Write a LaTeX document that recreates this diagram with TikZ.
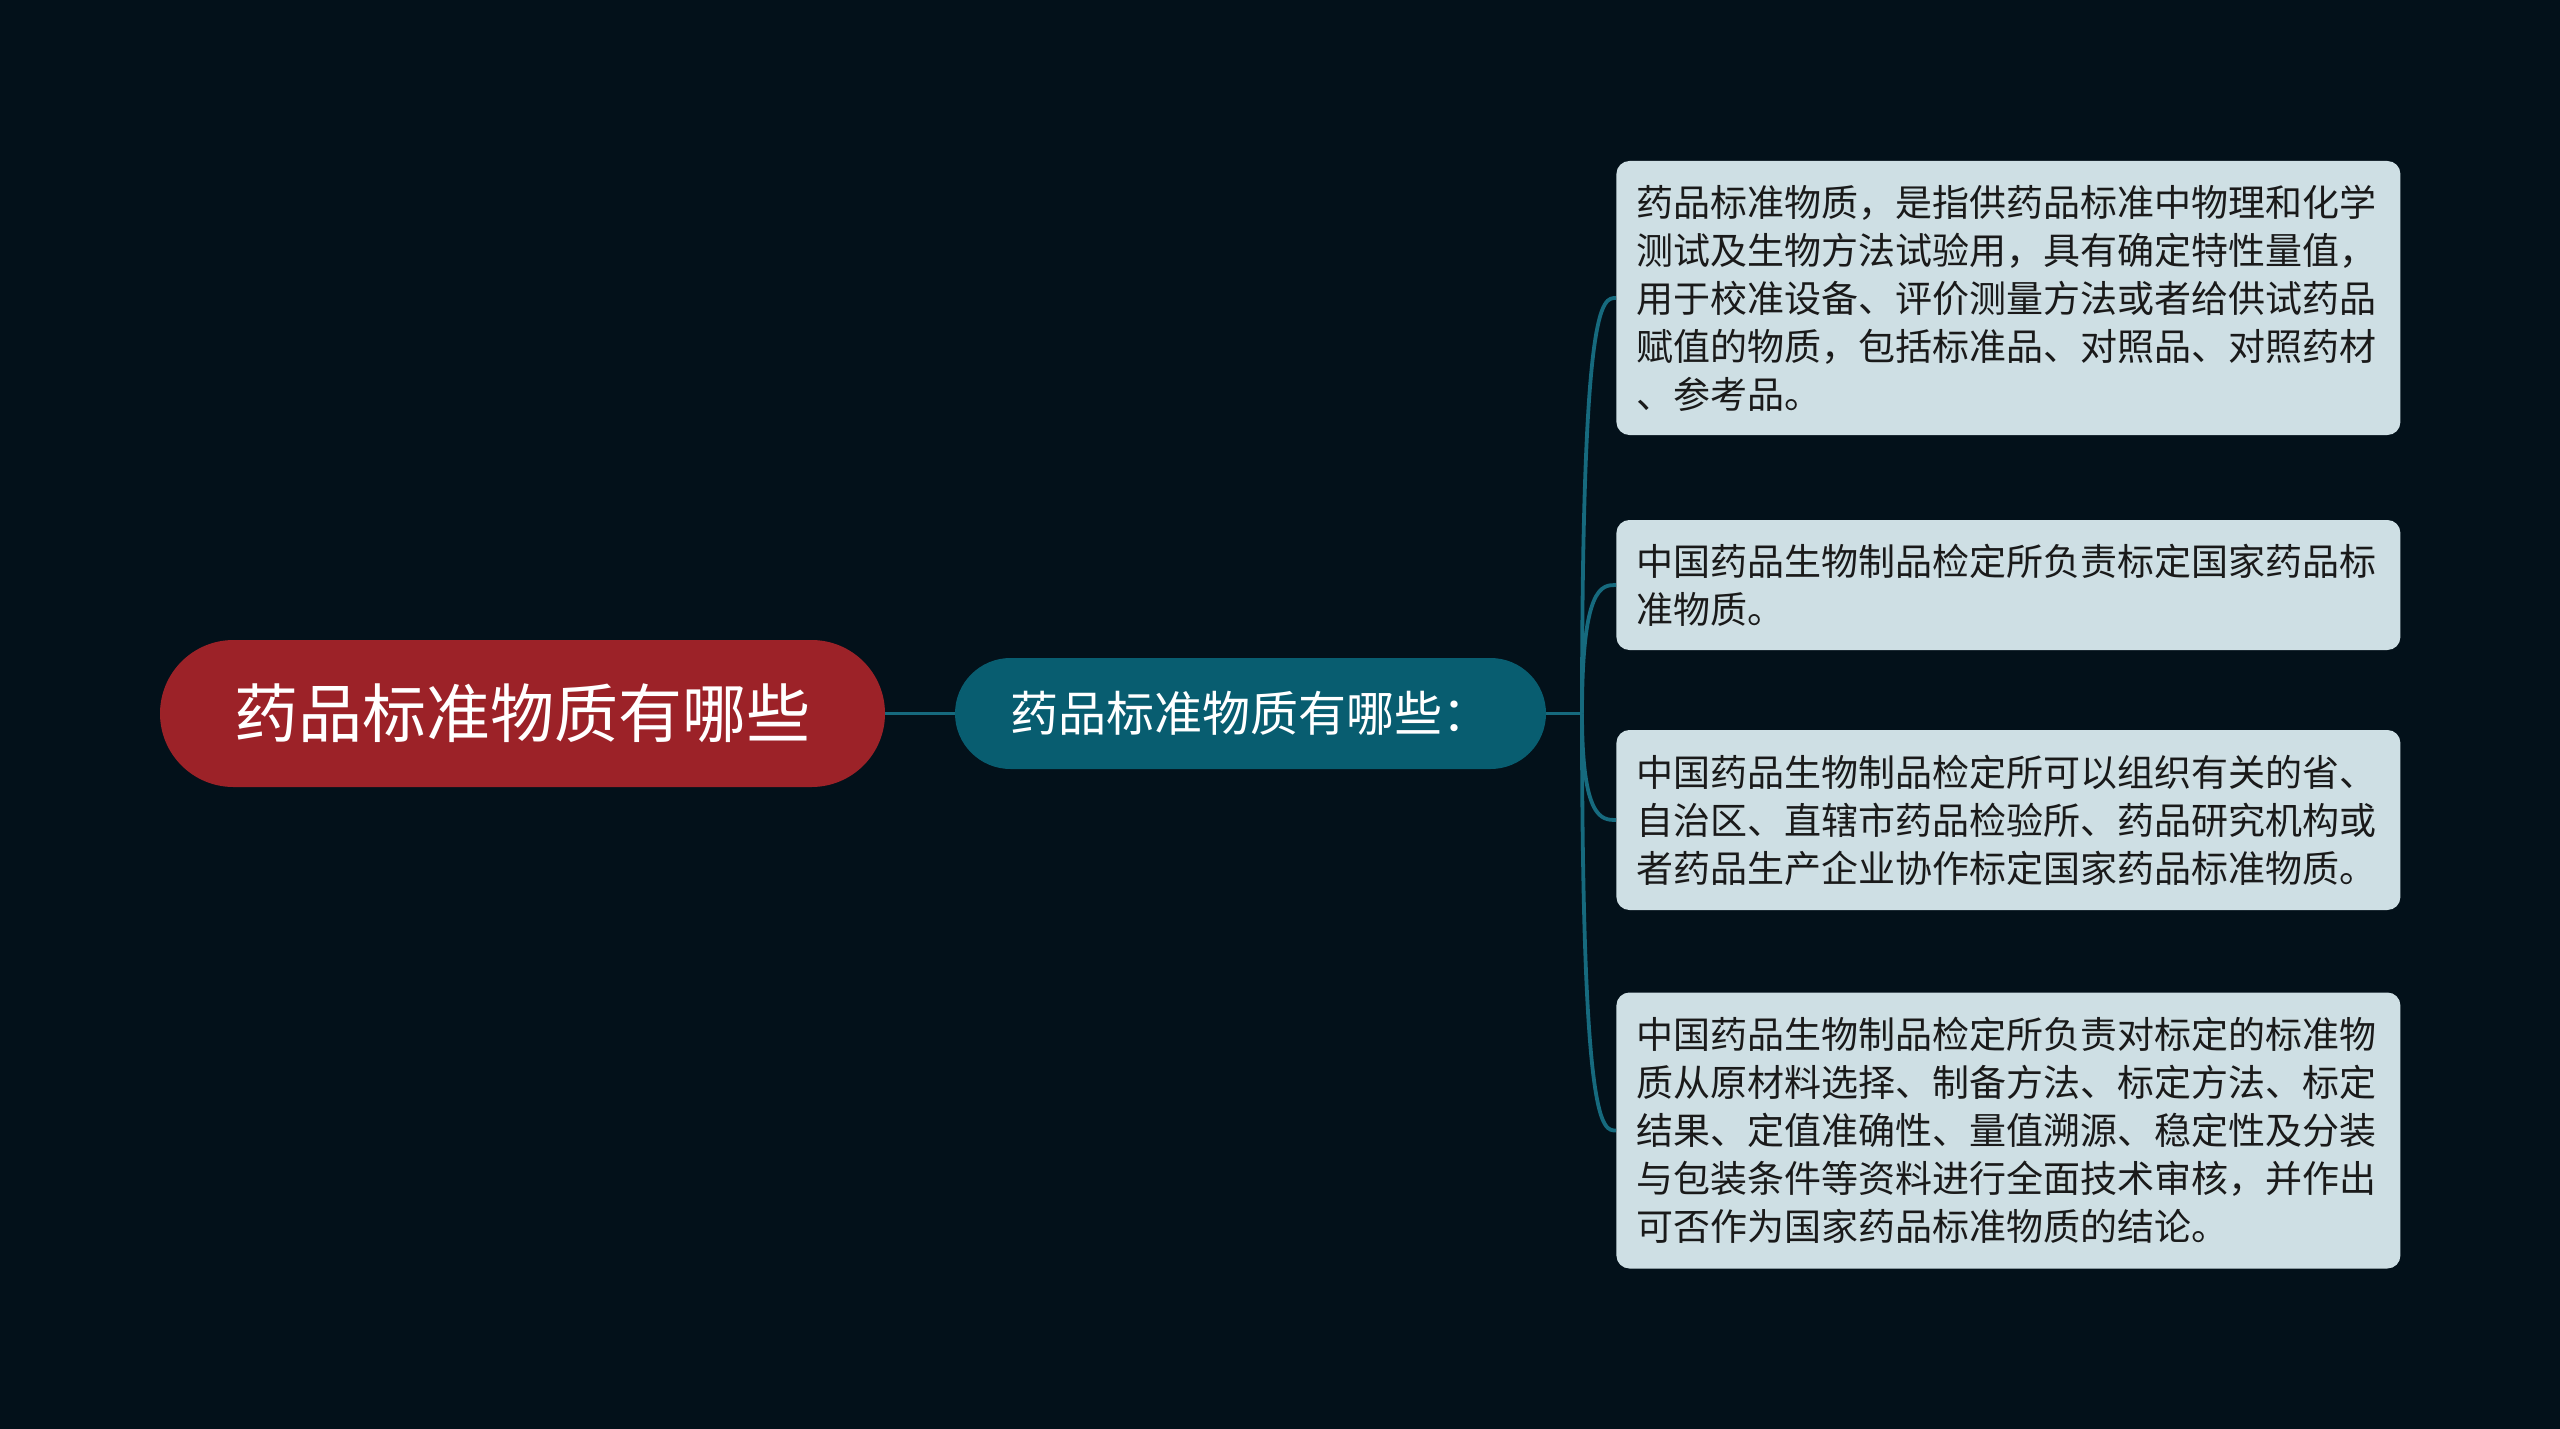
\documentclass[tikz,border=0pt]{standalone}
\usepackage{fontspec}
\setmainfont{Noto Sans CJK SC}
\usetikzlibrary{calc}
\definecolor{bgc}{RGB}{3,17,26}
\definecolor{rootc}{RGB}{156,34,40}
\definecolor{midc}{RGB}{8,93,112}
\definecolor{linec}{RGB}{22,106,126}
\definecolor{leafc}{RGB}{206,223,228}
\definecolor{leaftext}{RGB}{26,26,26}
\begin{document}
\begin{tikzpicture}[x=0.5pt,y=-0.5pt,
  rootnode/.style={fill=rootc, text=white, rounded corners=36.75pt, minimum width=362.5pt, minimum height=73.5pt, inner sep=0pt, font=\fontsize{32pt}{36pt}\selectfont},
  midnode/.style={fill=midc, text=white, rounded corners=27.75pt, minimum width=295.5pt, minimum height=55.5pt, inner sep=0pt, font=\fontsize{24pt}{28pt}\selectfont},
  leaf/.style={fill=leafc, text=leaftext, rounded corners=6.5pt, anchor=west, text width=372pt, inner xsep=10pt, inner ysep=0pt, align=left, font=\fontsize{18.5pt}{24pt}\selectfont},
  conn/.style={draw=linec, line width=1.9pt}]
\fill[bgc] (0,0) rectangle (2560,1429);
\useasboundingbox (0,0) rectangle (2560,1429);
\node[rootnode] (root) at (522.5,713.5) {药品标准物质有哪些};
\node[midnode] (mid) at (1250.5,713.5) {药品标准物质有哪些：};
\coordinate (J) at (1582,713.5);
\node[leaf, minimum height=137pt] (b1) at (1616,298) {药品标准物质，是指供药品标准中物理和化学\\测试及生物方法试验用，具有确定特性量值，\\用于校准设备、评价测量方法或者给供试药品\\赋值的物质，包括标准品、对照品、对照药材\\、参考品。};
\node[leaf, minimum height=65pt] (b2) at (1616,585) {中国药品生物制品检定所负责标定国家药品标\\准物质。};
\node[leaf, minimum height=90pt] (b3) at (1616,820) {中国药品生物制品检定所可以组织有关的省、\\自治区、直辖市药品检验所、药品研究机构或\\者药品生产企业协作标定国家药品标准物质。};
\node[leaf, minimum height=138pt] (b4) at (1616,1130.5) {中国药品生物制品检定所负责对标定的标准物\\质从原材料选择、制备方法、标定方法、标定\\结果、定值准确性、量值溯源、稳定性及分装\\与包装条件等资料进行全面技术审核，并作出\\可否作为国家药品标准物质的结论。};
\draw[conn] (root.east) -- (mid.west);
\draw[conn] (mid.east) -- (J);
\foreach \b in {b1,b2,b3,b4}
  \draw[conn] (J) .. controls (J |- \b.west) and ($(J |- \b.west)+(20,0)$) .. (\b.west);
\end{tikzpicture}
\end{document}
